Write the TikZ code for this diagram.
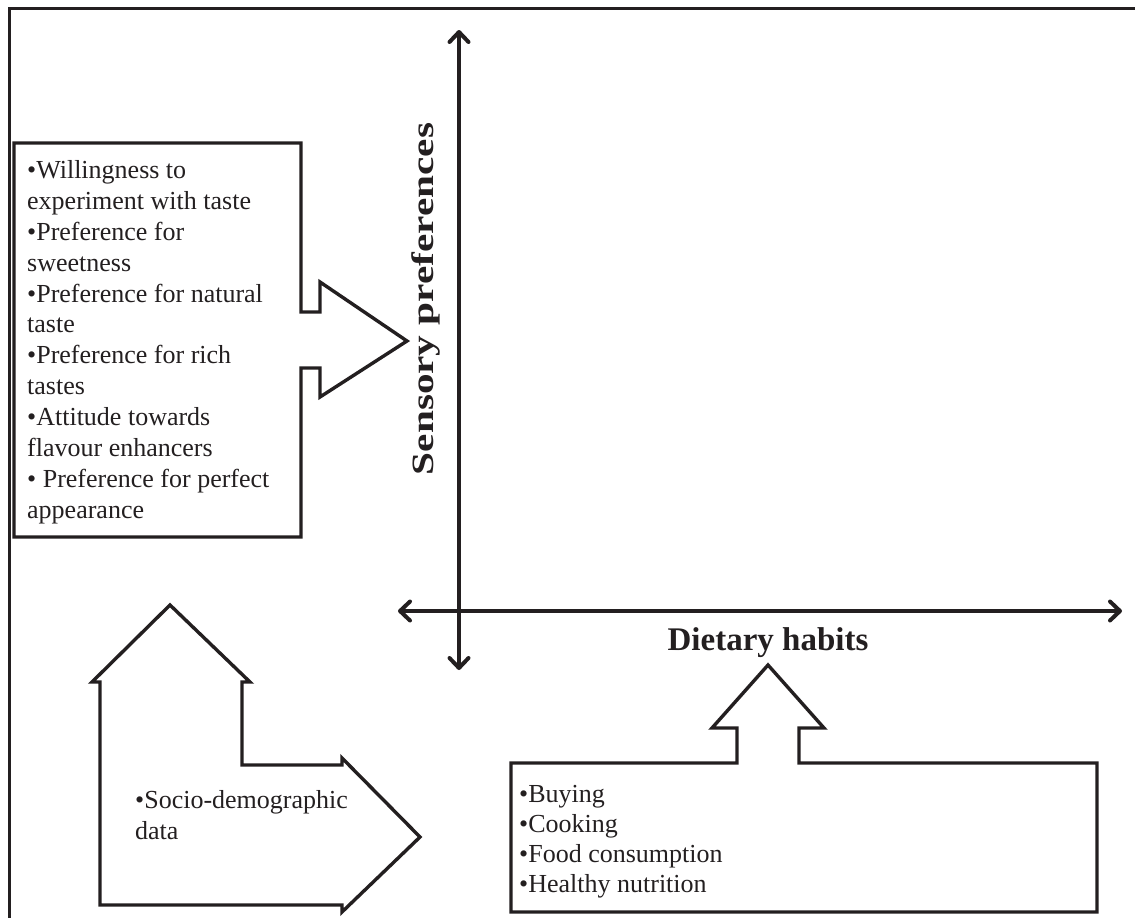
\documentclass[tikz,border=0pt]{standalone}
\usepackage{fontspec}
\setmainfont{Liberation Serif}
\usetikzlibrary{arrows.meta}
\definecolor{ink}{RGB}{35,31,32}
\begin{document}
\begin{tikzpicture}[x=1pt,y=-1pt,
  outline/.style={draw=ink, line width=3.4pt, line join=miter},
  frameline/.style={draw=ink, line width=3pt},
  barb/.tip={Straight Barb[length=10pt,width=19pt,line cap=round,line join=round]},
  axis/.style={draw=ink, line width=4pt, barb-barb},
  body/.style={font=\fontsize{26}{30.9}\selectfont, text=ink, inner sep=0pt, align=left, anchor=north west},
  heading/.style={font=\fontsize{33}{36}\selectfont\bfseries, text=ink, inner sep=0pt}]
\useasboundingbox (0,0) rectangle (1135,918);

% frame (top and left edges)
\coordinate (frameTR) at (1135,8);
\coordinate (frameTL) at (9,8);
\coordinate (frameBL) at (9,918);
\draw[frameline] (frameTR) -- (frameTL) -- (frameBL);

% axes
\coordinate (vtop) at (459,30);
\coordinate (vbot) at (459,670);
\coordinate (hleft) at (398,611);
\coordinate (hright) at (1122,611);
\draw[axis] (vbot) -- (vtop);
\draw[axis] (hleft) -- (hright);

% axis labels
\node[heading, font=\fontsize{31}{36}\selectfont\bfseries, rotate=90, anchor=base] (sensory) at (433,299)
  {\scalebox{1.33}[1]{Sensory preferences}};
\node[heading, anchor=base] (dietary) at (768,650) {Dietary habits};

% sensory callout, pointing right
\draw[outline] (14,143) -- (301,143) -- (301,312) -- (320,312) -- (320,282)
  -- (407,341) -- (320,397) -- (320,368) -- (301,368) -- (301,537)
  -- (14,537) -- cycle;
\node[body] (sensorylist) at (27,160.2)
  {•Willingness to\\
   experiment with taste\\
   •Preference for\\
   sweetness\\
   •Preference for natural\\
   taste\\
   •Preference for rich\\
   tastes\\
   •Attitude towards\\
   flavour enhancers\\
   • Preference for perfect\\
   appearance};

% socio-demographic bent arrow, pointing up and right
\draw[outline] (100,905) -- (100,682) -- (92,682) -- (170,605) -- (250,682)
  -- (242,682) -- (242,765) -- (342,765) -- (342,758) -- (420,837)
  -- (342,912) -- (342,905) -- cycle;
\node[body] (socio) at (135,790.2) {•Socio-demographic\\data};

% dietary callout, pointing up
\draw[outline] (511,763) -- (737,763) -- (737,728) -- (712,728) -- (768,665)
  -- (824,728) -- (799,728) -- (799,763) -- (1097,763) -- (1097,912)
  -- (511,912) -- cycle;
\node[body, font=\fontsize{26}{30.2}\selectfont] (dietlist) at (519,784.8)
  {•Buying\\•Cooking\\•Food consumption\\•Healthy nutrition};
\end{tikzpicture}
\end{document}
